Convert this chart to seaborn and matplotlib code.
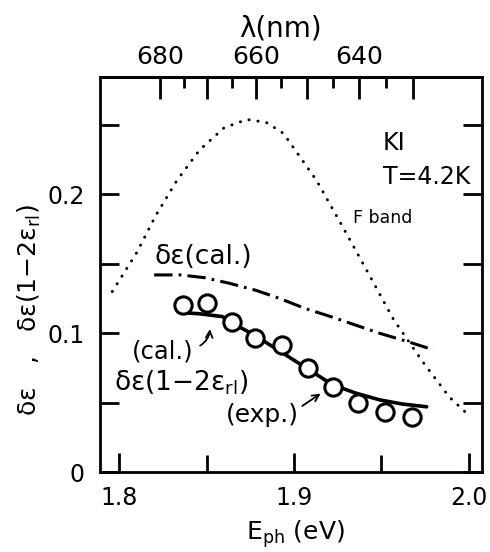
import numpy as np
import pandas as pd
import matplotlib
matplotlib.use("Agg")
import matplotlib.pyplot as plt
import seaborn as sns
from matplotlib.ticker import FixedLocator, FuncFormatter

# ---- data ----
fband_E = [1.796, 1.810, 1.821, 1.833, 1.846, 1.860, 1.873, 1.884, 1.894, 1.913, 1.930, 1.944, 1.957, 1.974, 1.989, 2.000]
fband_v = [0.130, 0.158, 0.185, 0.210, 0.232, 0.248, 0.254, 0.252, 0.244, 0.210, 0.172, 0.140, 0.110, 0.079, 0.054, 0.041]

calc_E = [1.820, 1.835, 1.849, 1.863, 1.878, 1.892, 1.906, 1.921, 1.935, 1.949, 1.965, 1.980]
calc_v = [0.142, 0.142, 0.140, 0.136, 0.131, 0.125, 0.118, 0.112, 0.106, 0.100, 0.094, 0.088]

cal2_E = [1.834, 1.846, 1.859, 1.868, 1.877, 1.892, 1.907, 1.922, 1.935, 1.949, 1.962, 1.976]
cal2_v = [0.115, 0.114, 0.112, 0.105, 0.099, 0.087, 0.075, 0.063, 0.057, 0.052, 0.049, 0.047]

exp_E = [1.8365, 1.850, 1.8645, 1.8777, 1.893, 1.908, 1.9224, 1.9367, 1.952, 1.9675]
exp_v = [0.1203, 0.1218, 0.108, 0.0965, 0.0915, 0.0749, 0.0612, 0.0497, 0.0432, 0.0396]

wl_major = [680, 670, 660, 650, 640, 630]
wl_labeled = [680, 660, 640]
wl_minor = [675, 665, 655, 645, 635]

sns.set_theme(style="ticks")
plt.rcParams['font.family'] = ['DejaVu Sans']
plt.rcParams['mathtext.fontset'] = 'dejavusans'
for k in ['text.color', 'axes.labelcolor', 'xtick.color', 'ytick.color', 'axes.edgecolor']:
    plt.rcParams[k] = 'black'

fig = plt.figure(figsize=(4.9, 5.52), dpi=100)
ax = fig.add_axes([0.2041, 0.1449, 0.983 - 0.2041, 0.8605 - 0.1449])

df_f = pd.DataFrame({"E": fband_E, "v": fband_v})
df_c = pd.DataFrame({"E": calc_E, "v": calc_v})
df_c2 = pd.DataFrame({"E": cal2_E, "v": cal2_v})
df_e = pd.DataFrame({"E": exp_E, "v": exp_v})

sns.lineplot(data=df_f, x="E", y="v", ax=ax, color="black", lw=2.1,
             linestyle=(0, (0.1, 3.0)), dash_capstyle="round", sort=False)
sns.lineplot(data=df_c, x="E", y="v", ax=ax, color="black", lw=2.2,
             linestyle=(0, (6.0, 2.0, 0.9, 2.0)), sort=False)
sns.lineplot(data=df_c2, x="E", y="v", ax=ax, color="black", lw=2.6, sort=False)
sns.scatterplot(data=df_e, x="E", y="v", ax=ax, s=155, facecolor="white",
                edgecolor="black", linewidth=2.2, zorder=5)

ax.set_xlim(1.789, 2.0075)
ax.set_ylim(0, 0.2846)

for s in ax.spines.values():
    s.set_linewidth(2.0)
    s.set_color("black")

ax.xaxis.set_major_locator(FixedLocator([1.8, 1.9, 2.0]))
ax.xaxis.set_minor_locator(FixedLocator([1.85, 1.95]))
ax.xaxis.set_major_formatter(FuncFormatter(lambda v, p: f"{v:.1f}"))
ax.yaxis.set_major_locator(FixedLocator([0, 0.1, 0.2]))
ax.yaxis.set_minor_locator(FixedLocator([0.05, 0.15, 0.25]))
ax.yaxis.set_major_formatter(FuncFormatter(lambda v, p: "0" if v == 0 else f"{v:.1f}"))

ax.tick_params(axis='x', which='major', direction='in', length=14, width=2, labelsize=17, pad=10, top=False)
ax.tick_params(axis='x', which='minor', direction='in', length=12, width=2, top=False)
ax.tick_params(axis='y', which='major', direction='in', length=14, width=2, labelsize=17, pad=11, right=True)
ax.tick_params(axis='y', which='minor', direction='in', length=14, width=2, right=True)

f = lambda E: 1239.84 / np.asarray(E, dtype=float)
sec = ax.secondary_xaxis('top', functions=(f, f))
sec.xaxis.set_major_locator(FixedLocator(wl_major))
sec.xaxis.set_minor_locator(FixedLocator(wl_minor))
sec.xaxis.set_major_formatter(FuncFormatter(lambda v, p: f"{int(round(v))}" if int(round(v)) in wl_labeled else ""))
sec.tick_params(axis='x', which='major', direction='in', length=16, width=2, labelsize=18, pad=6)
sec.tick_params(axis='x', which='minor', direction='in', length=8, width=2)
sec.spines['top'].set_linewidth(2.0)
ax.text(0.472, 1.124, "λ(nm)", transform=ax.transAxes, fontsize=20, ha="center", va="center")

ax.set_xlabel("E$_{\\mathrm{ph}}$ (eV)", fontsize=18)
ax.xaxis.set_label_coords(0.511, -0.118)
ax.set_ylabel("δε   ,   δε(1−2ε$_{\\mathrm{rl}}$)", fontsize=18)
ax.yaxis.set_label_coords(-0.15, 0.41)

ax.text(1.951, 0.237, "KI", fontsize=17, ha="left", va="center")
ax.text(1.951, 0.2125, "T=4.2K", fontsize=17, ha="left", va="center")
ax.text(1.9337, 0.183, "F band", fontsize=12.5, ha="left", va="center")
ax.text(1.848, 0.155, "δε(cal.)", fontsize=19, ha="center", va="center")
ax.text(1.825, 0.0865, "(cal.)", fontsize=17.5, ha="center", va="center")
ax.text(1.8353, 0.064, "δε(1−2ε$_{\\mathrm{rl}}$)", fontsize=19, ha="center", va="center")
ax.text(1.8817, 0.041, "(exp.)", fontsize=18, ha="center", va="center")

ax.annotate("", xy=(1.852, 0.105), xytext=(1.845, 0.090),
            arrowprops=dict(arrowstyle="->", color="black", lw=1.3,
                            connectionstyle="arc3,rad=0.3"))
ax.annotate("", xy=(1.9166, 0.0576), xytext=(1.9035, 0.0465),
            arrowprops=dict(arrowstyle="->", color="black", lw=1.3))

fig.savefig("out.png", dpi=100)
